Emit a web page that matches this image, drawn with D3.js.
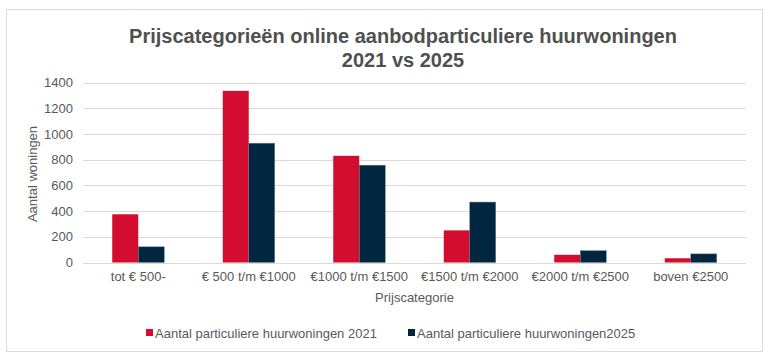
<!DOCTYPE html>
<html>
<head>
<meta charset="utf-8">
<script src="https://cdn.jsdelivr.net/npm/d3@7"></script>
<style>
  html, body { margin: 0; padding: 0; background: #ffffff; }
  svg { display: block; font-family: "Liberation Sans", Arial, sans-serif; }
</style>
</head>
<body>
<svg id="chart" width="770" height="360"></svg>
<script>
const categories = ["tot € 500-", "€ 500 t/m €1000", "€1000 t/m €1500", "€1500 t/m €2000", "€2000 t/m €2500", "boven €2500"];
const seriesNames = ["Aantal particuliere huurwoningen 2021", "Aantal particuliere huurwoningen2025"];
const values2021 = [375, 1335, 830, 250, 60, 33];
const values2025 = [122, 928, 757, 470, 92, 67];
const yTicks = [0, 200, 400, 600, 800, 1000, 1200, 1400];
const colors = ["#d20d2f", "#012640"];

const svg = d3.select("#chart");

// outer border
svg.append("rect").attr("x", 6.5).attr("y", 9.5).attr("width", 756).attr("height", 342)
  .attr("fill", "#fff").attr("stroke", "#d9d9d9").attr("stroke-width", 1);

const x0 = d3.scaleBand().domain(categories).range([83, 746]).paddingInner(0).paddingOuter(0);
const x1 = d3.scaleBand().domain([0, 1]).range([0, 52]);
const y = d3.scaleLinear().domain([0, 1400]).range([262.5, 82.5]);

// grid
const grid = svg.append("g");
grid.selectAll("line").data(yTicks).join("line")
  .attr("x1", 83).attr("x2", 746)
  .attr("y1", d => Math.round(y(d)) + 0.5).attr("y2", d => Math.round(y(d)) + 0.5)
  .attr("stroke", "#d9d9d9").attr("stroke-width", 1);

// y axis labels
const yAxis = d3.axisLeft(y).tickValues(yTicks).tickFormat(d3.format("d")).tickSize(0).tickPadding(10);
const gy = svg.append("g").attr("transform", "translate(83,0)").call(yAxis);
gy.select(".domain").remove();
gy.selectAll("text").attr("font-size", 13).attr("fill", "#595959")
  .attr("font-family", "Liberation Sans, Arial, sans-serif");

// bars
const series = [values2021, values2025];
const groups = svg.append("g").selectAll("g").data(categories).join("g")
  .attr("transform", d => `translate(${x0(d) + (x0.bandwidth() - 52) / 2},0)`);
groups.selectAll("rect").data((d, i) => series.map((s, k) => ({ k, v: s[i] }))).join("rect")
  .attr("x", d => x1(d.k)).attr("width", x1.bandwidth())
  .attr("y", d => y(d.v)).attr("height", d => y(0) - y(d.v))
  .attr("fill", d => colors[d.k])
  .attr("stroke", d => d.k === 1 ? "#6c8196" : "none").attr("stroke-width", 0.5);

// x axis labels
const xAxis = d3.axisBottom(x0).tickSize(0).tickPadding(9);
const gx = svg.append("g").attr("transform", "translate(0,262.5)").call(xAxis);
gx.select(".domain").remove();
gx.selectAll("text").attr("font-size", 13).attr("fill", "#595959")
  .attr("font-family", "Liberation Sans, Arial, sans-serif");

// axis titles
svg.append("text").attr("x", 414.5).attr("y", 302).attr("text-anchor", "middle")
  .attr("font-size", 13).attr("fill", "#595959").text("Prijscategorie");
svg.append("text").attr("transform", "translate(37,174) rotate(-90)").attr("text-anchor", "middle")
  .attr("font-size", 13).attr("fill", "#595959").text("Aantal woningen");

// title
const title = svg.append("text").attr("text-anchor", "middle").attr("font-size", 20)
  .attr("font-weight", "bold").attr("fill", "#505050");
title.append("tspan").attr("x", 403).attr("y", 43).text("Prijscategorieën online aanbodparticuliere huurwoningen");
title.append("tspan").attr("x", 403).attr("y", 67).text("2021 vs 2025");

// legend
const legendX = [146, 408];
const lg = svg.append("g").selectAll("g").data(seriesNames).join("g")
  .attr("transform", (d, i) => `translate(${legendX[i]},333)`);
lg.append("rect").attr("x", 0).attr("y", -4).attr("width", 7).attr("height", 7)
  .attr("fill", (d, i) => colors[i]);
lg.append("text").attr("x", 9).attr("y", 4.5).attr("font-size", 13).attr("fill", "#595959").text(d => d);
</script>
</body>
</html>
